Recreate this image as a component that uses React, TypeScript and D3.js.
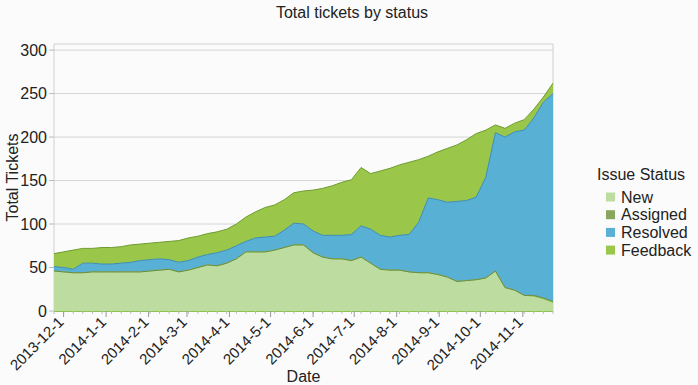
import React, { useEffect, useRef } from 'react';
import * as d3 from 'd3';

// weekly readings, 2013-11-24 .. 2014-11-23
const dates = [
  '2013-11-24', '2013-12-01', '2013-12-08', '2013-12-15', '2013-12-22', '2013-12-29',
  '2014-01-05', '2014-01-12', '2014-01-19', '2014-01-26', '2014-02-02', '2014-02-09',
  '2014-02-16', '2014-02-23', '2014-03-02', '2014-03-09', '2014-03-16', '2014-03-23',
  '2014-03-30', '2014-04-06', '2014-04-13', '2014-04-20', '2014-04-27', '2014-05-04',
  '2014-05-11', '2014-05-18', '2014-05-25', '2014-06-01', '2014-06-08', '2014-06-15',
  '2014-06-22', '2014-06-29', '2014-07-06', '2014-07-13', '2014-07-20', '2014-07-27',
  '2014-08-03', '2014-08-10', '2014-08-17', '2014-08-24', '2014-08-31', '2014-09-07',
  '2014-09-14', '2014-09-21', '2014-09-28', '2014-10-05', '2014-10-12', '2014-10-19',
  '2014-10-26', '2014-11-02', '2014-11-09', '2014-11-16', '2014-11-23',
];

const newTickets = [
  46, 45, 44, 44, 45, 45, 45, 45, 45, 45, 46, 47, 48, 45, 47, 50, 53, 52, 55, 60,
  68, 68, 68, 70, 73, 76, 76, 67, 62, 60, 60, 58, 62, 55, 48, 47, 47, 45, 44, 44,
  42, 39, 34, 35, 36, 38, 46, 27, 24, 18, 17, 14, 10,
];
const assigned = [
  0, 0, 0, 0, 0, 0, 0, 0, 0, 0, 0, 0, 0, 0, 0, 0, 0, 0, 0, 0,
  0, 0, 0, 0, 0, 0, 0, 0, 0, 0, 0, 0, 0, 0, 0, 0, 0, 0, 0, 0,
  0, 0, 0, 0, 0, 0, 0, 0, 0, 0, 1, 1, 1,
];
const resolved = [
  5, 5, 4, 11, 10, 9, 9, 10, 11, 13, 13, 13, 11, 11, 11, 12, 12, 15, 15, 15,
  12, 16, 17, 16, 20, 25, 24, 25, 25, 27, 27, 30, 36, 39, 39, 38, 40, 43, 58, 86,
  86, 86, 92, 92, 95, 116, 159, 173, 182, 190, 204, 225, 239,
];
const feedback = [
  15, 18, 22, 17, 17, 19, 19, 19, 20, 19, 19, 19, 21, 25, 26, 24, 24, 24, 24, 25,
  28, 30, 34, 36, 35, 35, 38, 47, 54, 57, 61, 63, 67, 64, 74, 79, 81, 83, 72, 48,
  55, 62, 65, 70, 73, 54, 9, 10, 10, 12, 10, 6, 12,
];

const statuses = ['New', 'Assigned', 'Resolved', 'Feedback'];
const yTicks = [0, 50, 100, 150, 200, 250, 300];

const fills = ['#bddda0', '#88a65e', '#58b1d5', '#9ac74a'];
const strokes = ['#8cc44e', '#6d8a45', '#3a8cb8', '#6f9c30'];

const App = () => {
  const ref = useRef<SVGSVGElement>(null);

  useEffect(() => {
    const W = 698, H = 385;
    const left = 54, right = 553, top = 44, bottom = 311;
    const svg = d3.select(ref.current);
    svg.selectAll('*').remove();

    const font = '"Liberation Sans", Arial, sans-serif';
    svg.append('rect').attr('width', W).attr('height', H).attr('fill', '#fbfbfb');

    const parse = d3.timeParse('%Y-%m-%d');
    const rows = dates.map((d, i) => ({
      date: parse(d) as Date,
      New: newTickets[i],
      Assigned: assigned[i],
      Resolved: resolved[i],
      Feedback: feedback[i],
    }));

    const x = d3.scaleTime()
      .domain([rows[0].date, rows[rows.length - 1].date])
      .range([left, right]);
    const y = d3.scaleLinear().domain([0, 307]).range([bottom, top]);

    // grid
    svg.append('g').selectAll('line')
      .data(yTicks.filter(t => t > 0))
      .enter().append('line')
      .attr('x1', left).attr('x2', right)
      .attr('y1', d => y(d)).attr('y2', d => y(d))
      .attr('stroke', '#d6d6d6').attr('stroke-width', 1);

    // frame
    svg.append('path')
      .attr('d', `M${left},${bottom}V${top}H${right}V${bottom}`)
      .attr('fill', 'none').attr('stroke', '#d0d0d0');

    const stack = d3.stack<any>().keys(statuses);
    const layers = stack(rows);

    const area = d3.area<any>()
      .x(d => x(d.data.date))
      .y0(d => y(d[0]))
      .y1(d => y(d[1]));
    const topLine = d3.line<any>()
      .x(d => x(d.data.date))
      .y(d => y(d[1]));

    svg.append('g').selectAll('path')
      .data(layers)
      .enter().append('path')
      .attr('d', area)
      .attr('fill', (d, i) => fills[i]);

    svg.append('g').selectAll('path')
      .data(layers)
      .enter().append('path')
      .attr('d', topLine)
      .attr('fill', 'none')
      .attr('stroke', (d, i) => strokes[i])
      .attr('stroke-width', 1);

    // baseline
    svg.append('line')
      .attr('x1', left).attr('x2', right).attr('y1', bottom + 0.5).attr('y2', bottom + 0.5)
      .attr('stroke', '#8cc44e');

    // y axis
    const yAxis = svg.append('g');
    yTicks.forEach(t => {
      yAxis.append('line')
        .attr('x1', left - 5).attr('x2', left).attr('y1', y(t)).attr('y2', y(t))
        .attr('stroke', '#bbb');
      yAxis.append('text')
        .attr('x', left - 7).attr('y', y(t)).attr('dy', '0.35em')
        .attr('text-anchor', 'end')
        .attr('font-family', font).attr('font-size', 16).attr('fill', '#222')
        .text(t);
    });

    // x axis
    const xAxis = svg.append('g');
    const weeks = d3.timeWeek.range(x.domain()[0], d3.timeDay.offset(x.domain()[1], 1));
    weeks.forEach(w => {
      xAxis.append('line')
        .attr('x1', x(w)).attr('x2', x(w)).attr('y1', bottom).attr('y2', bottom + 3)
        .attr('stroke', '#bbb');
    });
    const months = x.ticks(d3.timeMonth.every(1));
    const fmt = d3.timeFormat('%Y-%-m-%-d');
    months.forEach(m => {
      xAxis.append('line')
        .attr('x1', x(m)).attr('x2', x(m)).attr('y1', bottom).attr('y2', bottom + 6)
        .attr('stroke', '#999');
      xAxis.append('text')
        .attr('transform', `translate(${x(m) + 1},${bottom + 12}) rotate(-45)`)
        .attr('text-anchor', 'end')
        .attr('font-family', font).attr('font-size', 15).attr('fill', '#222')
        .text(fmt(m));
    });

    // titles
    svg.append('text')
      .attr('x', 352).attr('y', 18).attr('text-anchor', 'middle')
      .attr('font-family', font).attr('font-size', 16).attr('fill', '#222')
      .text('Total tickets by status');
    svg.append('text')
      .attr('x', (left + right) / 2).attr('y', 382).attr('text-anchor', 'middle')
      .attr('font-family', font).attr('font-size', 16).attr('fill', '#222')
      .text('Date');
    svg.append('text')
      .attr('transform', `translate(18,${(top + bottom) / 2}) rotate(-90)`)
      .attr('text-anchor', 'middle')
      .attr('font-family', font).attr('font-size', 16).attr('fill', '#222')
      .text('Total Tickets');

    // legend
    const lg = svg.append('g');
    lg.append('text')
      .attr('x', 597).attr('y', 180)
      .attr('font-family', font).attr('font-size', 16).attr('fill', '#222')
      .text('Issue Status');
    statuses.forEach((s, i) => {
      const cy = 197 + i * 17.7;
      lg.append('rect')
        .attr('x', 606).attr('y', cy - 4.5).attr('width', 9).attr('height', 9)
        .attr('fill', fills[i]);
      lg.append('text')
        .attr('x', 621).attr('y', cy).attr('dy', '0.35em')
        .attr('font-family', font).attr('font-size', 16).attr('fill', '#222')
        .text(s);
    });
  }, []);

  return (
    <svg ref={ref} width={698} height={385}
      style={{ position: 'absolute', left: 0, top: 0, display: 'block' }} />
  );
};

export default App;
